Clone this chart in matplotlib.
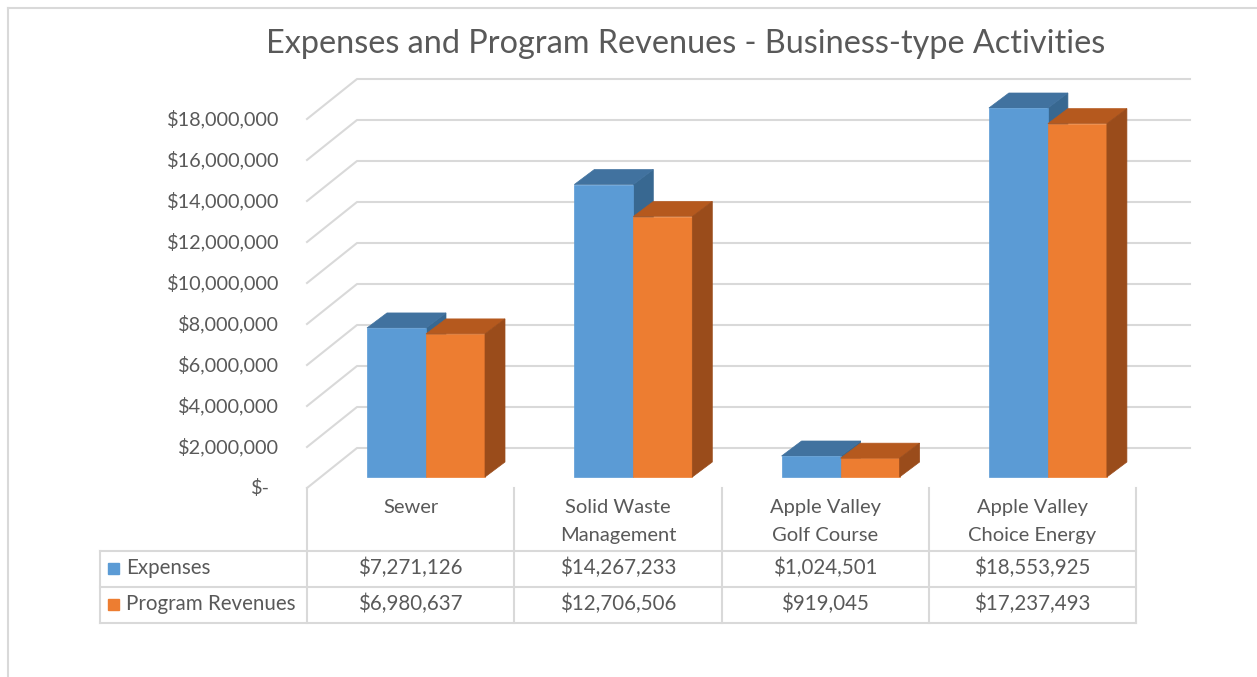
import numpy as np
import matplotlib.pyplot as plt
from matplotlib.patches import Polygon, Rectangle
from matplotlib.lines import Line2D

plt.rcParams['font.family'] = ['Lato', 'DejaVu Sans']

title = "Expenses and Program Revenues - Business-type Activities"
categories = ["Sewer", "Solid Waste\nManagement", "Apple Valley\nGolf Course",
              "Apple Valley\nChoice Energy"]
series_names = ["Expenses", "Program Revenues"]
expenses = [7271126, 14267233, 1024501, 18553925]
revenues = [6980637, 12706506, 919045, 17237493]
y_ticks = np.arange(0, 18000001, 2000000)
y_max = 18000000   # axis maximum, taller bars get cut here

# colours: front, top, side
blue = ['#5B9BD5', '#41729F', '#386891']
orange = ['#ED7D31', '#B5591E', '#9A4C1B']
grid_col = '#D9D9D9'
text_col = '#595959'

W, H = 1257, 677
X0, Y0 = 426, 477          # pixel of first category centre / bar base
PX_CAT = 207.3             # pixels per category
PX_USD = 20.5e-6           # pixels per dollar


def px(x):
    return (x - X0) / PX_CAT


def py(y):
    return (Y0 - y) / PX_USD


fig = plt.figure(figsize=(W / 100, H / 100), dpi=100)
ax = fig.add_axes([0, 0, 1, 1])
ax.set_xlim(px(0), px(W))
ax.set_ylim(py(H), py(0))
ax.axis('off')

# chart border
fig.add_artist(Line2D([8 / W, 8 / W], [0, 1 - 8 / H], color=grid_col, lw=1.5))
fig.add_artist(Line2D([8 / W, 1], [1 - 8 / H, 1 - 8 / H], color=grid_col, lw=1.5))

fig.text(686 / W, 1 - 44 / H, title, ha='center', va='center', fontsize=23.3,
         color=text_col)

# walls / gridlines
front_off, back_off = py(488), py(448)
x_front, x_back, x_end = px(307), px(357), px(1190)
for v in y_ticks:
    ax.plot([x_front, x_back, x_end], [v + front_off, v + back_off, v + back_off],
            color=grid_col, lw=1.5, zorder=1)
    lab = "$-" if v == 0 else f"${v:,.0f}"
    xr = px(270) if v == 0 else px(279)
    ax.text(xr, v + front_off, lab, ha='right', va='center', fontsize=14.3,
            color=text_col)

# 3d-looking bars
x = np.arange(len(categories))
w = 59 / PX_CAT
dx = 20 / PX_CAT
dy = 15 / PX_USD
exp_h = np.minimum(expenses, y_max)
rev_h = np.minimum(revenues, y_max)

ax.bar(x - w, exp_h, w, align='edge', color=blue[0], lw=0.5,
       edgecolor=blue[0], zorder=3)
ax.bar(x, rev_h, w, align='edge', color=orange[0], lw=0.5,
       edgecolor=orange[0], zorder=4)
for xi, v1, v2 in zip(x, exp_h, rev_h):
    l = xi - w
    ax.add_patch(Polygon([(xi, 0), (xi + dx, dy), (xi + dx, v1 + dy), (xi, v1)],
                         color=blue[2], lw=0.5, zorder=2))
    ax.add_patch(Polygon([(l, v1), (xi, v1), (xi + dx, v1 + dy), (l + dx, v1 + dy)],
                         color=blue[1], lw=0.5, zorder=2))
    r = xi + w
    ax.add_patch(Polygon([(xi, v2), (r, v2), (r + dx, v2 + dy), (xi + dx, v2 + dy)],
                         color=orange[1], lw=0.5, zorder=5))
    ax.add_patch(Polygon([(r, 0), (r + dx, dy), (r + dx, v2 + dy), (r, v2)],
                         color=orange[2], lw=0.5, zorder=5))

# data table
col_edges = x_front + np.arange(len(categories) + 1)
tab_top, row1, tab_bot = py(551), py(587), py(623)
x_left = px(100)
for ce in col_edges:
    ax.plot([ce, ce], [front_off, tab_bot], color=grid_col, lw=1.5, zorder=1)
ax.plot([x_left, x_left], [tab_top, tab_bot], color=grid_col, lw=1.5)
for yy in (tab_top, row1, tab_bot):
    ax.plot([x_left, col_edges[-1]], [yy, yy], color=grid_col, lw=1.5)

centres = col_edges[:-1] + 0.5
for c, cat in zip(centres, categories):
    ax.text(c, py(499), cat, ha='center', va='top', fontsize=14.5,
            color=text_col, linespacing=1.78)

rows = [(expenses, blue[0], py(568)), (revenues, orange[0], py(604))]
for (vals, col, yc), name in zip(rows, series_names):
    ax.add_patch(Rectangle((px(108), yc - 5.5 / PX_USD),
                           11 / PX_CAT, 11 / PX_USD, color=col))
    ax.text(px(126), yc, name, ha='left', va='center', fontsize=14.8,
            color=text_col)
    for c, v in zip(centres, vals):
        ax.text(c, yc, f"${v:,.0f}", ha='center', va='center', fontsize=14.8,
                color=text_col)

fig.savefig('out.png', dpi=100, facecolor='white')
